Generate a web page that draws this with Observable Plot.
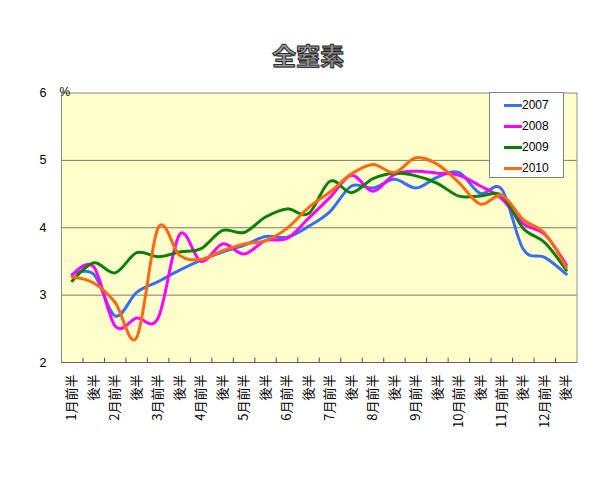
<!DOCTYPE html>
<html><head><meta charset="utf-8">
<script src="https://cdn.jsdelivr.net/npm/d3@7"></script>
<script src="https://cdn.jsdelivr.net/npm/@observablehq/plot@0.6"></script>
<style>
body{margin:0;background:#fff;}
#wrap{position:relative;width:614px;height:478px;overflow:hidden;}
#title{height:80px;box-sizing:border-box;padding-top:43px;padding-left:2px;text-align:center;font:bold 24px/24px "Noto Sans CJK JP",sans-serif;color:#9a9a9a;-webkit-text-stroke:1px #2a2a2a;text-shadow:1px 1px 0 #bbb;}
#legend{position:absolute;left:489px;top:92px;width:73px;height:84px;background:#fff;border:1px solid #808080;font:12px "Liberation Sans",Arial,sans-serif;color:#000;}
#legend .row{position:absolute;left:0;height:21px;width:73px;}
#legend .sw{position:absolute;left:14px;top:9px;width:18px;height:3px;}
#legend .lb{position:absolute;left:32px;top:3px;line-height:15px;}
svg{display:block;}
</style></head>
<body><div id="wrap"><div id="title">全窒素</div><div id="chart"></div><div id="legend"></div></div>
<script>
const categories = ["1月前半","後半","2月前半","後半","3月前半","後半","4月前半","後半","5月前半","後半","6月前半","後半","7月前半","後半","8月前半","後半","9月前半","後半","10月前半","後半","11月前半","後半","12月前半","後半"];
const years = ["2007","2008","2009","2010"];
const colors = ["#3a6ff0","#ff00ff","#0a800a","#ff6a10"];
const v2007 = [3.31,3.31,2.69,3.04,3.20,3.37,3.52,3.64,3.74,3.87,3.86,4.02,4.24,4.62,4.59,4.72,4.59,4.75,4.82,4.51,4.57,3.68,3.56,3.31];
const v2008 = [3.30,3.42,2.54,2.66,2.66,3.90,3.50,3.76,3.61,3.81,3.84,4.14,4.45,4.78,4.54,4.79,4.84,4.81,4.78,4.62,4.43,4.06,3.90,3.45];
const v2009 = [3.21,3.48,3.33,3.63,3.57,3.64,3.69,3.96,3.93,4.16,4.28,4.21,4.69,4.52,4.73,4.81,4.77,4.66,4.47,4.47,4.48,3.99,3.78,3.37];
const v2010 = [3.27,3.18,2.89,2.37,4.00,3.59,3.53,3.66,3.76,3.81,3.99,4.30,4.53,4.80,4.94,4.82,5.04,4.94,4.67,4.35,4.48,4.12,3.92,3.41];
const yTicks = [2,3,4,5,6];

const seriesValues = [v2007, v2008, v2009, v2010];
const rows = [];
seriesValues.forEach((vals, s) => vals.forEach((v, i) => rows.push({series: years[s], idx: i + 0.5, value: v})));
const centers = categories.map((c, i) => i + 0.5);
const bounds = categories.slice(1).map((c, i) => i + 1);

const chart = Plot.plot({
  width: 614,
  height: 398,
  marginLeft: 61,
  marginRight: 37.5,
  marginTop: 12.5,
  marginBottom: 116,
  style: {fontFamily: "'Liberation Sans', Arial, sans-serif", fontSize: "12px", color: "#000", background: "transparent"},
  x: {type: "linear", domain: [0, categories.length], axis: null},
  y: {domain: [2, 6], axis: null},
  color: {domain: years, range: colors},
  marks: [
    Plot.frame({fill: "#ffffcc"}),
    Plot.gridY([3, 4, 5], {stroke: "#7a7a62", strokeOpacity: 1}),
    Plot.frame({stroke: "#8c8c8c"}),
    Plot.ruleY([2], {stroke: "#606060"}),
    Plot.ruleX(bounds, {y1: 2, y2: 2.065, stroke: "#505050"}),
    Plot.axisY(yTicks, {tickSize: 0, tickPadding: 15, fontSize: 12.5, tickFormat: d => String(d), label: null}),
    Plot.axisX(centers, {tickFormat: d => categories[Math.round(d - 0.5)], tickRotate: -90, tickSize: 0, tickPadding: 12, fontSize: 13, fontFamily: "'Noto Sans CJK JP', sans-serif", label: null}),
    Plot.text(["%"], {frameAnchor: "top-left", dx: -2, dy: -6, fontSize: 12}),
    Plot.line(rows, {x: "idx", y: "value", stroke: "series", z: "series", curve: "cardinal", strokeWidth: 3})
  ]
});
document.getElementById("chart").appendChild(chart);

const legend = document.getElementById("legend");
years.forEach((y, i) => {
  const row = document.createElement("div");
  row.className = "row";
  row.style.top = (1.5 + 21 * i) + "px";
  row.innerHTML = `<div class="sw" style="background:${colors[i]}"></div><div class="lb">${y}</div>`;
  legend.appendChild(row);
});
</script></body></html>
